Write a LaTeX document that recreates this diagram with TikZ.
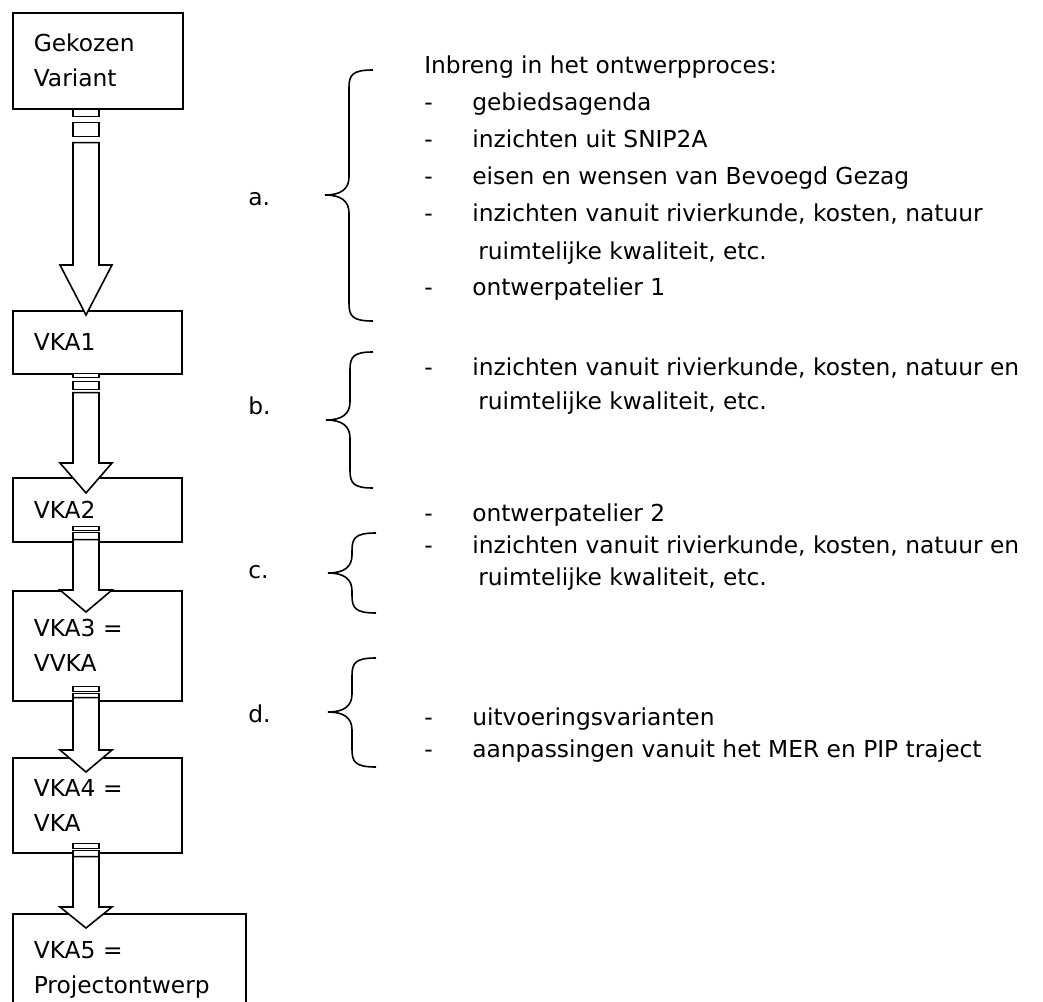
\documentclass[tikz,border=0pt]{standalone}
\usepackage{fontspec}
\setmainfont{DejaVu Sans}
\usetikzlibrary{calc}

\tikzset{
  box/.style={draw, line width=1.2pt, rectangle, anchor=north west, align=left, inner xsep=15.75pt, inner ysep=0pt, font=\fontsize{17.5}{26.25}\selectfont},
  txt/.style={anchor=base west, inner sep=0pt, font=\fontsize{17.5}{24}\selectfont},
  arrowline/.style={draw, fill=white, line width=1.2pt, line join=miter},
  bracket/.style={draw, line width=1.2pt},
}

% block arrow: from, to, rect1 top/bottom, rect2 top/bottom, shaft top, head length, tip offset
\newcommand{\flowarrow}[9]{%
  \draw[arrowline] ($(#1.south west)+(61,#3)$) rectangle ($(#1.south west)+(87,#4)$);
  \draw[arrowline] ($(#1.south west)+(61,#5)$) rectangle ($(#1.south west)+(87,#6)$);
  \coordinate (top) at ($(#1.south west)+(74,#7)$);
  \coordinate (tip) at ($(#2.north west)+(74,#9)$);
  \coordinate (neck) at ($(tip)+(0,-#8)$);
  \draw[arrowline] ($(top)+(-13,0)$) -- ($(neck)+(-13,0)$) -- ($(neck)+(-26,0)$) -- (tip)
    -- ($(neck)+(26,0)$) -- ($(neck)+(13,0)$) -- ($(top)+(13,0)$) -- cycle;
}
% curly brace: x tip, x stem, x ends, y top, y tip, y bottom
\newcommand{\curlybrace}[6]{%
  \draw[bracket] (#3,#4) .. controls ({#2+3},#4) and (#2,{#4+5}) .. (#2,{#4+18})
    -- (#2,{#5-18}) .. controls (#2,{#5-6}) and ({#2-8},#5) .. (#1,#5)
    .. controls ({#2-8},#5) and (#2,{#5+6}) .. (#2,{#5+18})
    -- (#2,{#6-18}) .. controls (#2,{#6-5}) and ({#2+3},#6) .. (#3,#6);
}

\begin{document}
\begin{tikzpicture}[x=0.75pt,y=-0.75pt]
\useasboundingbox (0,0) rectangle (1043,1002);%
% variants
\node[box, minimum width=127.5pt, minimum height=72pt, text width=96pt] (gv) at (12,12) {Gekozen\\Variant};%
\node[box, minimum width=126.75pt, minimum height=47.25pt, text width=95.25pt] (vka1) at (12,310) {VKA1};%
\node[box, minimum width=126.75pt, minimum height=48pt, text width=95.25pt] (vka2) at (12,477) {VKA2};%
\node[box, minimum width=126.75pt, minimum height=82.5pt, text width=95.25pt] (vka3) at (12,590) {VKA3 =\\VVKA};%
\node[box, minimum width=126.75pt, minimum height=71.25pt, text width=95.25pt] (vka4) at (12,757) {VKA4 =\\VKA};%
\node[box, minimum width=174.75pt, minimum height=84pt, text width=143.25pt] (vka5) at (12,913) {VKA5 =\\Projectontwerp};%
% arrows
\flowarrow{gv}{vka1}{0}{7}{13}{27}{33}{50}{5}%
\flowarrow{vka1}{vka2}{-1}{3}{7}{15}{18}{30}{16}%
\flowarrow{vka2}{vka3}{-16}{-12}{-10}{-3}{-3}{22}{22}%
\flowarrow{vka3}{vka4}{-15}{-10}{-8}{-4}{-4}{22}{15}%
\flowarrow{vka4}{vka5}{-10}{-5}{-3}{3}{3}{21}{15}%
% braces
\curlybrace{325}{349}{373}{70}{195}{321}%
\curlybrace{326}{350}{373}{352}{420}{488}%
\curlybrace{328}{352}{376}{533}{573}{613}%
\curlybrace{328}{352}{376}{658}{712}{767}%
% labels
\node[txt] (la) at (248,206) {a.};%
\node[txt] (lb) at (248,414) {b.};%
\node[txt] (lc) at (248,578) {c.};%
\node[txt] (ld) at (248,722) {d.};%
% input a
\node[txt] (a0) at (424,74) {Inbreng in het ontwerpproces:};%
\node[txt] (a1d) at (424,111) {-};\node[txt] (a1) at (472,111) {gebiedsagenda};%
\node[txt] (a2d) at (424,148) {-};\node[txt] (a2) at (472,148) {inzichten uit SNIP2A};%
\node[txt] (a3d) at (424,185) {-};\node[txt] (a3) at (472,185) {eisen en wensen van Bevoegd Gezag};%
\node[txt] (a4d) at (424,222) {-};\node[txt] (a4) at (472,222) {inzichten vanuit rivierkunde, kosten, natuur};%
\node[txt] (a5) at (478,259) {ruimtelijke kwaliteit, etc.};%
\node[txt] (a6d) at (424,296) {-};\node[txt] (a6) at (472,296) {ontwerpatelier 1};%
% input b
\node[txt] (b1d) at (424,375) {-};\node[txt] (b1) at (472,375) {inzichten vanuit rivierkunde, kosten, natuur en};%
\node[txt] (b2) at (478,409) {ruimtelijke kwaliteit, etc.};%
% input c
\node[txt] (c1d) at (424,521) {-};\node[txt] (c1) at (472,521) {ontwerpatelier 2};%
\node[txt] (c2d) at (424,553) {-};\node[txt] (c2) at (472,553) {inzichten vanuit rivierkunde, kosten, natuur en};%
\node[txt] (c3) at (478,585) {ruimtelijke kwaliteit, etc.};%
% input d
\node[txt] (d1d) at (424,725) {-};\node[txt] (d1) at (472,725) {uitvoeringsvarianten};%
\node[txt] (d2d) at (424,757) {-};\node[txt] (d2) at (472,757) {aanpassingen vanuit het MER en PIP traject};%
\end{tikzpicture}
\end{document}
